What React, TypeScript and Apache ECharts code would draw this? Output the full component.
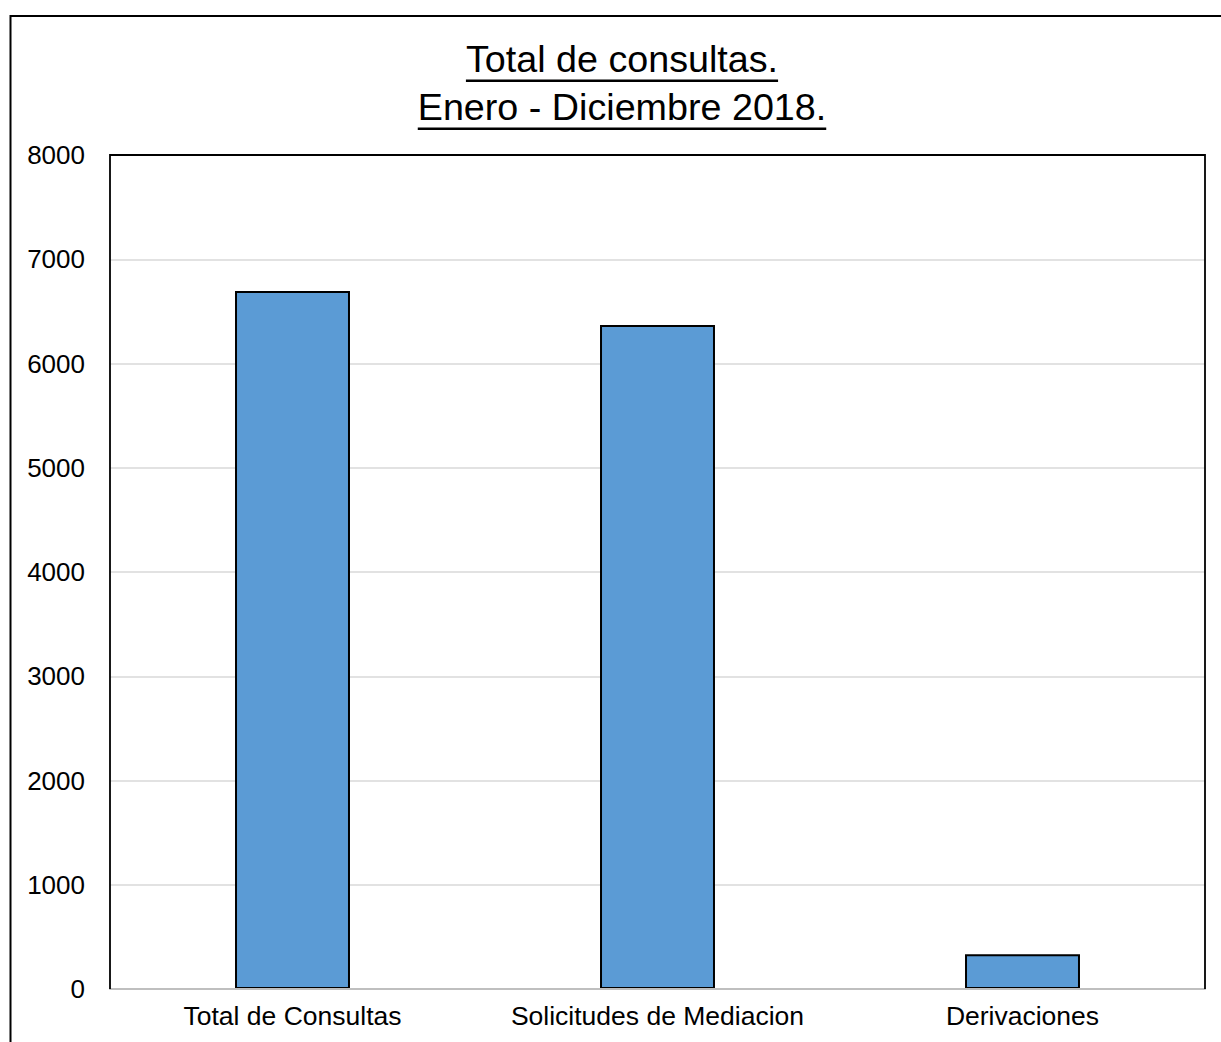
import React, { useEffect, useRef } from "react";
import * as echarts from "echarts";

const categories: string[] = ["Total de Consultas", "Solicitudes de Mediacion", "Derivaciones"];
const values: number[] = [6695, 6369, 333];
const titleLines: string[] = ["Total de consultas.", "Enero - Diciembre 2018."];

const FONT = "'Liberation Sans', Arial, Helvetica, sans-serif";

function measure(text: string, size: number): number {
  const c = document.createElement("canvas").getContext("2d");
  if (!c) return text.length * size * 0.5;
  c.font = `${size}px ${FONT}`;
  return c.measureText(text).width;
}

export default function App() {
  const ref = useRef<HTMLDivElement>(null);
  useEffect(() => {
    if (!ref.current) return;
    const chart = echarts.init(ref.current, undefined, { renderer: "svg" });
    const cx = 622;
    const titleSize = 37.7;
    const lineCenters = [58.5, 107];
    const underlineY = [80.7, 128.7];
    const gl = 110, gt = 155, gr = 1205, gb = 989;
    const graphics: any[] = [
      {
        type: "rect",
        shape: { x: 10.5, y: 16, width: 1400, height: 1200 },
        style: { fill: "none", stroke: "#000", lineWidth: 2 },
        silent: true,
      },
      {
        type: "polyline",
        shape: { points: [[gl, gb], [gl, gt], [gr, gt], [gr, gb]] },
        style: { fill: "none", stroke: "#000", lineWidth: 1.8 },
        z: 100,
        silent: true,
      },
    ];
    titleLines.forEach((t, i) => {
      const w = measure(t, titleSize);
      graphics.push({
        type: "text",
        x: cx,
        y: lineCenters[i],
        style: {
          text: t,
          fill: "#000",
          font: `${titleSize}px ${FONT}`,
          align: "center",
          verticalAlign: "middle",
        },
      });
      graphics.push({
        type: "line",
        shape: { x1: cx - w / 2, y1: underlineY[i], x2: cx + w / 2, y2: underlineY[i] },
        style: { stroke: "#000", lineWidth: 2.5 },
      });
    });

    chart.setOption({
      animation: false,
      backgroundColor: "#fff",
      graphic: graphics,
      grid: {
        left: gl,
        top: gt,
        right: 1221 - gr,
        bottom: 1042 - gb,
        containLabel: false,
      },
      xAxis: {
        type: "category",
        data: categories,
        axisTick: { show: false },
        axisLine: { show: true, lineStyle: { color: "#bfbfbf", width: 2 } },
        axisLabel: {
          color: "#000",
          fontSize: 26.5,
          fontFamily: FONT,
          margin: 13,
          interval: 0,
        },
        z: 5,
      },
      yAxis: {
        type: "value",
        min: 0,
        max: 8000,
        interval: 1000,
        axisLine: { show: false },
        axisTick: { show: false },
        axisLabel: {
          color: "#000",
          fontSize: 26,
          fontFamily: FONT,
          margin: 25,
          formatter: (v: number) => String(v),
        },
        splitLine: { show: true, lineStyle: { color: "#d9d9d9", width: 1.5 } },
      },
      series: [
        {
          type: "bar",
          data: values,
          barWidth: "31.5%",
          itemStyle: { color: "#5b9bd5", borderColor: "#000", borderWidth: 2 },
        },
      ],
    });
    return () => chart.dispose();
  }, []);
  return (
    <div
      ref={ref}
      style={{ position: "fixed", left: 0, top: 0, width: 1221, height: 1042, background: "#fff" }}
    />
  );
}
